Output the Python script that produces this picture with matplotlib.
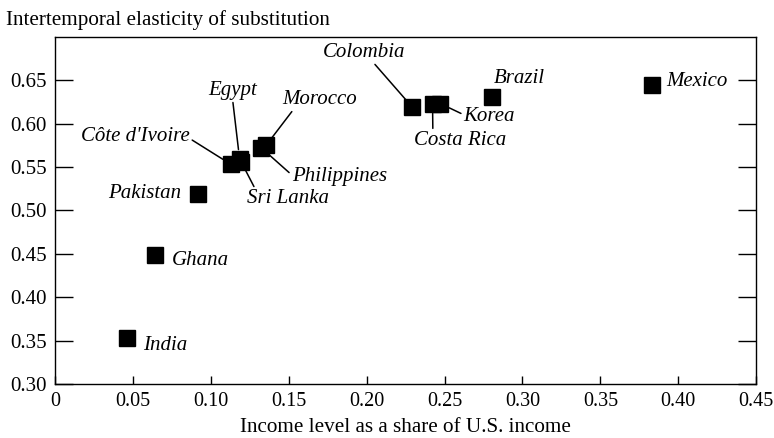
import matplotlib.pyplot as plt

# data
countries = ['India', 'Ghana', 'Pakistan', "Côte d'Ivoire", 'Egypt', 'Sri Lanka',
             'Morocco', 'Philippines', 'Colombia', 'Costa Rica', 'Korea', 'Brazil', 'Mexico']
income = [0.046, 0.064, 0.092, 0.113, 0.1185, 0.1195, 0.1355, 0.1325, 0.2293, 0.2423, 0.2474, 0.2806, 0.3833]
elasticity = [0.353, 0.449, 0.519, 0.553, 0.559, 0.556, 0.575, 0.572, 0.619, 0.623, 0.623, 0.631, 0.645]

xticks = [0, 0.05, 0.10, 0.15, 0.20, 0.25, 0.30, 0.35, 0.40, 0.45]
xticklabels = ['0', '0.05', '0.10', '0.15', '0.20', '0.25', '0.30', '0.35', '0.40', '0.45']
yticks = [0.30, 0.35, 0.40, 0.45, 0.50, 0.55, 0.60, 0.65]

# label placement: offset in pixels, alignment, leader line start (relpos) or None
label_style = {
    'India': ((16, -7), 'left', None),
    'Ghana': ((17, -6), 'left', None),
    'Pakistan': ((-17, 0), 'right', None),
    "Côte d'Ivoire": ((-96, 28), 'center', (1.0, 0.4)),
    'Egypt': ((-7, 69), 'center', (0.5, 0.0)),
    'Sri Lanka': ((47, -37), 'center', (0.1, 1.0)),
    'Morocco': ((54, 46), 'center', (0.15, 0.0)),
    'Philippines': ((78, -29), 'center', (0.0, 0.6)),
    'Colombia': ((-48, 55), 'center', (0.6, 0.0)),
    'Costa Rica': ((28, -37), 'center', (0.2, 1.0)),
    'Korea': ((49, -13), 'center', (0.0, 0.6)),
    'Brazil': ((27, 18), 'center', None),
    'Mexico': ((14, 3), 'left', None),
}

plt.rcParams['font.family'] = ['Liberation Serif', 'DejaVu Serif']

fig = plt.figure(figsize=(7.74, 4.38), dpi=100)
ax = fig.add_axes([0.071, 0.123, 0.906, 0.793])

ax.plot(income, elasticity, 's', color='black', markersize=11, linestyle='none')

for name, x, y in zip(countries, income, elasticity):
    off, ha, rel = label_style[name]
    if rel is None:
        ax.annotate(name, (x, y), xytext=off, textcoords='offset pixels',
                    ha=ha, va='center', fontsize=15, fontstyle='italic')
    else:
        ax.annotate(name, (x, y), xytext=off, textcoords='offset pixels',
                    ha=ha, va='center', fontsize=15, fontstyle='italic',
                    arrowprops=dict(arrowstyle='-', color='black', lw=1.1,
                                    relpos=rel, shrinkA=0, shrinkB=7))

ax.set_xlim(0, 0.45)
ax.set_ylim(0.30, 0.70)
ax.set_xticks(xticks)
ax.set_xticklabels(xticklabels)
ax.set_yticks(yticks)
ax.set_yticklabels(['%.2f' % v for v in yticks])
ax.tick_params(axis='x', direction='in', length=6, width=1, labelsize=14.5, pad=6)
ax.tick_params(axis='y', direction='in', length=13, width=1, labelsize=15, right=True, pad=6)
for s in ax.spines.values():
    s.set_linewidth(1)

ax.set_xlabel('Income level as a share of U.S. income', fontsize=15.2, labelpad=5)
fig.text(0.008, 0.955, 'Intertemporal elasticity of substitution', fontsize=15.2,
         ha='left', va='center')

fig.savefig('out.png', dpi=100)
